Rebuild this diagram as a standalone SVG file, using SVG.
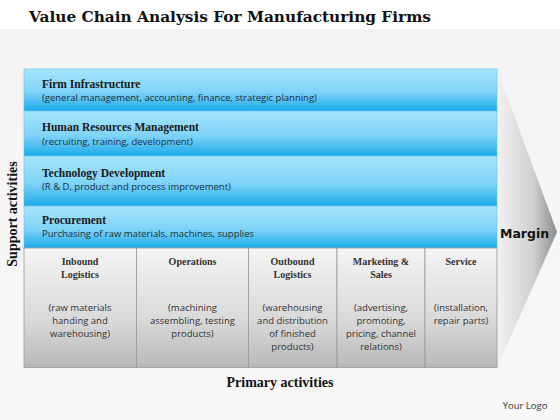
<svg xmlns="http://www.w3.org/2000/svg" width="560" height="420" viewBox="0 0 560 420">
<defs>
<linearGradient id="bg" x1="0" y1="0" x2="0" y2="1"><stop offset="0" stop-color="#f3f3f3"/><stop offset="1" stop-color="#f8f8f8"/></linearGradient>
<linearGradient id="blue" x1="0" y1="0" x2="0" y2="1"><stop offset="0" stop-color="#a6e5fc"/><stop offset="0.55" stop-color="#7fd3f7"/><stop offset="1" stop-color="#1aaae8"/></linearGradient>
<linearGradient id="gray" x1="0" y1="0" x2="0" y2="1"><stop offset="0" stop-color="#f4f4f4"/><stop offset="0.6" stop-color="#d9d9d9"/><stop offset="1" stop-color="#b8b8b8"/></linearGradient>
<linearGradient id="arrow" x1="0" y1="0" x2="1" y2="0"><stop offset="0" stop-color="#f2f2f2"/><stop offset="0.6" stop-color="#d0d0d0"/><stop offset="1" stop-color="#8c8c8c"/></linearGradient>
<style>
.title{font-family:"Liberation Serif",serif;font-weight:bold;fill:#111}
.bt{font-family:"Liberation Serif",serif;font-weight:bold;font-size:11.5px;fill:#1a1a1a}
.bs{font-family:"Open Sans","Liberation Sans",sans-serif;font-size:9.5px;fill:#1f2f3a}
.ct{font-family:"Liberation Serif",serif;font-weight:bold;font-size:10px;fill:#333;text-anchor:middle}
.cs{font-family:"Open Sans","Liberation Sans",sans-serif;font-size:9.5px;fill:#333;text-anchor:middle}
.band{fill:url(#blue);stroke:#5ec4ef;stroke-width:0.6}
.col{fill:url(#gray);stroke:#9a9a9a;stroke-width:0.8}
</style>
</defs>
<rect x="0" y="0" width="560" height="420" fill="#ffffff"/>
<rect x="0" y="29" width="560" height="391" fill="url(#bg)"/>
<text x="29" y="22" font-family="DejaVu Serif, serif" font-weight="bold" font-size="15" fill="#111" textLength="402" lengthAdjust="spacingAndGlyphs">Value Chain Analysis For Manufacturing Firms</text>

<g id="margin">
<path d="M497,69 L557,232 L497,368 Z" fill="url(#arrow)"/>
<text x="500" y="238" font-family="DejaVu Sans, sans-serif" font-weight="bold" font-size="12.5" fill="#111">Margin</text>
</g>

<g id="firm-infrastructure">
<rect class="band" x="24" y="69" width="473" height="42"/>
<text class="bt" x="42" y="88">Firm Infrastructure</text>
<text class="bs" x="42" y="101">(general management, accounting, finance, strategic planning)</text>
</g>
<g id="hrm">
<rect class="band" x="24" y="111" width="473" height="45"/>
<text class="bt" x="42" y="131">Human  Resources Management</text>
<text class="bs" x="42" y="145">(recruiting, training, development)</text>
</g>
<g id="technology-development">
<rect class="band" x="24" y="156" width="473" height="50"/>
<text class="bt" x="42" y="177">Technology Development</text>
<text class="bs" x="42" y="190">(R &amp; D, product and process improvement)</text>
</g>
<g id="procurement">
<rect class="band" x="24" y="206" width="473" height="42"/>
<text class="bt" x="42" y="224">Procurement</text>
<text class="bs" x="42" y="237">Purchasing of raw materials, machines, supplies</text>
</g>

<g id="inbound-logistics">
<rect class="col" x="24" y="248" width="112.5" height="119.5"/>
<text class="ct" x="80" y="265">Inbound</text>
<text class="ct" x="80" y="277.5">Logistics</text>
<text class="cs" x="80" y="311">(raw materials</text>
<text class="cs" x="80" y="324">handing and</text>
<text class="cs" x="80" y="337">warehousing)</text>
</g>
<g id="operations">
<rect class="col" x="136.5" y="248" width="112" height="119.5"/>
<text class="ct" x="192.5" y="265">Operations</text>
<text class="cs" x="192.5" y="311">(machining</text>
<text class="cs" x="192.5" y="324">assembling, testing</text>
<text class="cs" x="192.5" y="337">products)</text>
</g>
<g id="outbound-logistics">
<rect class="col" x="248.5" y="248" width="88.5" height="119.5"/>
<text class="ct" x="292.5" y="265">Outbound</text>
<text class="ct" x="292.5" y="277.5">Logistics</text>
<text class="cs" x="292.5" y="311">(warehousing</text>
<text class="cs" x="292.5" y="324">and distribution</text>
<text class="cs" x="292.5" y="337">of finished</text>
<text class="cs" x="292.5" y="350">products)</text>
</g>
<g id="marketing-sales">
<rect class="col" x="337" y="248" width="88" height="119.5"/>
<text class="ct" x="381" y="265">Marketing &amp;</text>
<text class="ct" x="381" y="277.5">Sales</text>
<text class="cs" x="381" y="311">(advertising,</text>
<text class="cs" x="381" y="324">promoting,</text>
<text class="cs" x="381" y="337">pricing, channel</text>
<text class="cs" x="381" y="350">relations)</text>
</g>
<g id="service">
<rect class="col" x="425" y="248" width="72" height="119.5"/>
<text class="ct" x="461" y="265">Service</text>
<text class="cs" x="461" y="311">(installation,</text>
<text class="cs" x="461" y="324">repair parts)</text>
</g>

<g id="connectors"></g>

<text class="title" font-size="14" transform="translate(17,214) rotate(-90)" text-anchor="middle">Support activities</text>
<text class="title" font-size="14" x="280" y="387" text-anchor="middle">Primary activities</text>
<text x="525" y="409" font-family="Open Sans, Liberation Sans, sans-serif" font-size="9.5" fill="#333" text-anchor="middle">Your Logo</text>
</svg>
